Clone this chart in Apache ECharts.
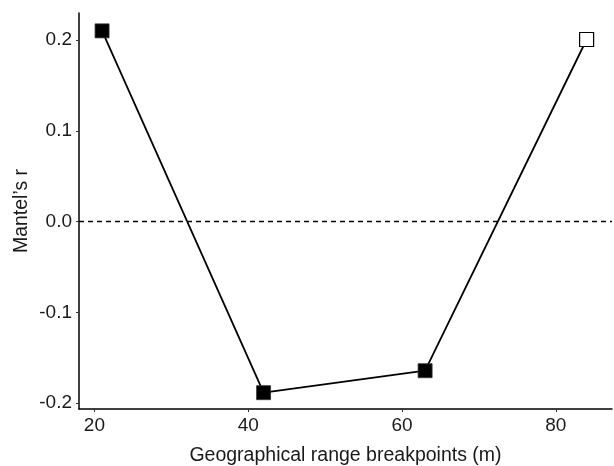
<!DOCTYPE html>
<html>
<head>
<meta charset="utf-8">
<script src="https://cdn.jsdelivr.net/npm/echarts@6/dist/echarts.min.js"></script>
<style>html,body{margin:0;padding:0;background:#fff;}#c{width:614px;height:466px;}</style>
</head>
<body>
<div id="c"></div>
<script>
const breakpoints = [21, 42, 63, 84];
const mantelR = [0.2103, -0.1886, -0.1644, 0.2008];
const significant = [true, true, true, false];
const xTicks = [20, 40, 60, 80];
const yTicks = [-0.2, -0.1, 0.0, 0.1, 0.2];
const xTitle = 'Geographical range breakpoints (m)';
const yTitle = 'Mantel\u2019s r';

const chart = echarts.init(document.getElementById('c'), null, {renderer: 'canvas'});
const font = 'Liberation Sans, Arial, sans-serif';
const data = breakpoints.map((x, i) => ({
  value: [x, mantelR[i]],
  itemStyle: significant[i]
    ? {color: '#000', borderColor: '#333', borderWidth: 0.8}
    : {color: '#fff', borderColor: '#000', borderWidth: 1.2}
}));
chart.setOption({
  animation: false,
  backgroundColor: '#fff',
  grid: {left: 79, right: 2, top: 13, bottom: 57, containLabel: false, outerBoundsMode: 'none'},
  xAxis: {
    type: 'value', min: 18, max: 87.3,
    name: xTitle, nameLocation: 'middle', nameGap: 37, nameMoveOverlap: false,
    nameTextStyle: {fontFamily: font, fontSize: 19.5, color: '#1a1a1a'},
    axisLine: {show: true, onZero: false, lineStyle: {color: '#000', width: 1.5}},
    axisTick: {show: true, customValues: xTicks, length: 3, lineStyle: {color: '#333'}},
    axisLabel: {customValues: xTicks, margin: 7, fontFamily: font, fontSize: 19, color: '#1a1a1a'},
    splitLine: {show: false}
  },
  yAxis: {
    type: 'value', min: -0.2066, max: 0.23,
    name: yTitle, nameLocation: 'middle', nameGap: 47, nameMoveOverlap: false,
    nameTextStyle: {fontFamily: font, fontSize: 19.5, color: '#1a1a1a'},
    axisLine: {show: true, onZero: false, lineStyle: {color: '#000', width: 1.5}},
    axisTick: {show: true, customValues: yTicks, length: 3, lineStyle: {color: '#333'}},
    axisLabel: {customValues: yTicks, margin: 7, fontFamily: font, fontSize: 19, color: '#1a1a1a',
      formatter: v => v.toFixed(1)},
    splitLine: {show: false}
  },
  series: [{
    type: 'line',
    data: data,
    symbol: 'rect',
    symbolSize: 14,
    lineStyle: {color: '#000', width: 1.8},
    z: 3,
    markLine: {
      silent: true,
      symbol: ['none', 'none'],
      label: {show: false},
      lineStyle: {color: '#000', type: [5, 4], width: 1.3},
      data: [{yAxis: 0}],
      z: 1
    }
  }]
});
</script>
</body>
</html>
